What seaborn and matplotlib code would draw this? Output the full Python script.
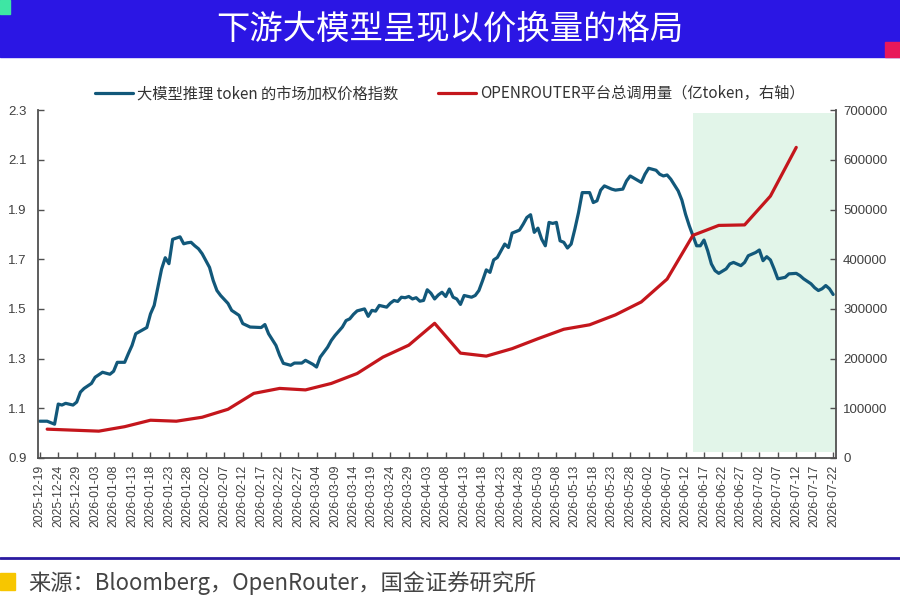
import numpy as np
import pandas as pd
import seaborn as sns
import matplotlib.pyplot as plt

# data
start = "2025-12-19"
price_day = [0, 2, 4, 5, 6, 7, 9, 10, 11, 12, 14, 15, 17, 19, 20, 21, 23, 24, 25, 26,
             28, 29, 30, 31, 32, 33, 34, 35, 36, 38, 39, 40, 41, 42, 43, 44, 46, 47, 48, 49,
             51, 52, 54, 55, 57, 60, 61, 62, 64, 65, 66, 68, 69, 71, 72, 74, 75, 76, 78, 79,
             80, 82, 83, 84, 85, 86, 88, 89, 90, 91, 92, 94, 95, 96, 97, 98, 99, 100, 101, 102,
             103, 104, 105, 106, 107, 108, 109, 110, 111, 112, 113, 114, 115, 117, 118, 119, 120, 121, 122, 123,
             124, 125, 126, 127, 128, 130, 131, 132, 133, 134, 135, 136, 137, 138, 139, 140, 141, 142, 143, 144,
             145, 146, 147, 149, 150, 151, 152, 153, 155, 156, 158, 159, 160, 162, 163, 164, 165, 167, 168, 169,
             170, 171, 173, 174, 175, 176, 177, 178, 179, 180, 181, 182, 183, 184, 186, 187, 188, 190, 191, 192,
             194, 195, 196, 197, 198, 199, 200, 202, 203, 205, 206, 207, 209, 210, 211, 212, 213, 214, 215]
price_index = [1.048, 1.048, 1.036, 1.117, 1.113, 1.120, 1.113, 1.125, 1.165, 1.180, 1.200, 1.225, 1.245, 1.237, 1.249, 1.285, 1.285, 1.320, 1.353, 1.400,
               1.417, 1.425, 1.480, 1.514, 1.586, 1.660, 1.706, 1.682, 1.780, 1.790, 1.762, 1.766, 1.768, 1.754, 1.742, 1.722, 1.667, 1.614, 1.574, 1.554,
               1.522, 1.494, 1.474, 1.441, 1.427, 1.425, 1.437, 1.400, 1.353, 1.313, 1.281, 1.273, 1.282, 1.282, 1.293, 1.277, 1.266, 1.306, 1.346, 1.373,
               1.393, 1.427, 1.453, 1.460, 1.478, 1.492, 1.500, 1.470, 1.494, 1.491, 1.514, 1.507, 1.523, 1.534, 1.530, 1.547, 1.545, 1.550, 1.540, 1.545,
               1.531, 1.534, 1.577, 1.563, 1.540, 1.556, 1.567, 1.550, 1.580, 1.547, 1.540, 1.518, 1.554, 1.547, 1.554, 1.574, 1.614, 1.657, 1.647, 1.697,
               1.707, 1.734, 1.761, 1.747, 1.805, 1.817, 1.841, 1.868, 1.879, 1.808, 1.825, 1.781, 1.754, 1.848, 1.844, 1.848, 1.774, 1.768, 1.745, 1.761,
               1.821, 1.888, 1.968, 1.968, 1.928, 1.935, 1.978, 1.995, 1.982, 1.978, 1.982, 2.015, 2.035, 2.018, 2.009, 2.042, 2.066, 2.058, 2.042, 2.035,
               2.039, 2.022, 1.975, 1.938, 1.881, 1.835, 1.795, 1.754, 1.754, 1.777, 1.734, 1.681, 1.654, 1.643, 1.661, 1.681, 1.687, 1.674, 1.687, 1.714,
               1.727, 1.737, 1.694, 1.710, 1.697, 1.661, 1.621, 1.627, 1.641, 1.643, 1.634, 1.621, 1.601, 1.585, 1.574, 1.581, 1.594, 1.581, 1.558]

usage_start = "2025-12-21"
usage = [58000, 56000, 54000, 63000, 76000, 74000, 82000, 98000, 130000, 140000,
         137000, 150000, 170000, 203000, 227000, 271000, 211000, 205000, 220000, 240000,
         259000, 268000, 288000, 314000, 360000, 448000, 468000, 469000, 527000, 625000]

shade_from = "2026-06-14"
end = "2026-07-22"

name_price = "大模型推理 token 的市场加权价格指数"
name_usage = "OPENROUTER平台总调用量（亿token，右轴）"
title = "下游大模型呈现以价换量的格局"
source = "来源：Bloomberg，OpenRouter，国金证券研究所"

price_df = pd.DataFrame({"date": pd.to_datetime(start) + pd.to_timedelta(price_day, unit="D"),
                         "value": price_index})
usage_df = pd.DataFrame({"date": pd.date_range(usage_start, periods=len(usage), freq="7D"),
                         "value": usage})

sns.set_style("ticks")
plt.rcParams['font.family'] = ['Noto Sans CJK SC', 'DejaVu Sans']

blue = "#12587a"
red = "#c4161c"
grey = "#404040"
tick_font = ['Liberation Sans', 'DejaVu Sans']

fig = plt.figure(figsize=(9, 6.05), dpi=100)
ax = fig.add_axes([0.042, 0.243, 0.887, 0.575])
ax2 = ax.twinx()

t0 = pd.to_datetime(start)
ax.axvspan(pd.to_datetime(shade_from), pd.to_datetime(end) + pd.Timedelta(days=0.8),
           ymin=0.017, ymax=0.991, color="#e2f5e9", lw=0, zorder=0)

sns.lineplot(data=price_df, x="date", y="value", ax=ax, color=blue, lw=2.3, label=name_price, legend=False)
sns.lineplot(data=usage_df, x="date", y="value", ax=ax2, color=red, lw=2.3, label=name_usage, legend=False)

ax.set_ylim(0.9, 2.3)
ax.set_yticks(np.arange(0.9, 2.31, 0.2))
ax.set_yticklabels([f"{v:.1f}" for v in np.arange(0.9, 2.31, 0.2)], family=tick_font)
ax2.set_ylim(0, 700000)
ax2.set_yticks(range(0, 700001, 100000))
ax2.set_yticklabels([str(v) for v in range(0, 700001, 100000)], family=tick_font)

ticks = pd.date_range(start, end, freq="5D")
ax.set_xticks(ticks)
ax.set_xticklabels([d.strftime("%Y-%m-%d") for d in ticks], rotation=90, family=tick_font)
ax.set_xlim(t0 - pd.Timedelta(days=0.54), pd.to_datetime(end) + pd.Timedelta(days=0.8))
ax.set_xlabel("")
ax.set_ylabel("")
ax2.set_ylabel("")

for a in (ax, ax2):
    a.spines["top"].set_visible(False)
    for s in ("left", "right", "bottom"):
        a.spines[s].set_color("#505050")
        a.spines[s].set_linewidth(1.3)
    a.tick_params(direction="in", length=4, width=1, color="#505050",
                  labelsize=9.5, labelcolor=grey, pad=5)
ax2.spines["left"].set_visible(False)
ax.spines["right"].set_visible(False)
ax2.spines["bottom"].set_visible(False)
ax.tick_params(axis="x", labelsize=8.8, pad=5)
ax.tick_params(axis="y", pad=8)

h1, l1 = ax.get_legend_handles_labels()
h2, l2 = ax2.get_legend_handles_labels()
fig.legend(h1 + h2, l1 + l2, loc="center", bbox_to_anchor=(0.5, 0.845), ncol=2,
           frameon=False, fontsize=11, handlelength=2.5, handletextpad=0.25,
           columnspacing=2.6, labelcolor="#333333")

# title band and decorations
fig.patches.append(plt.Rectangle((0, 1 - 57 / 605), 1, 57 / 605, transform=fig.transFigure,
                                 color="#2b16e4", zorder=0))
fig.patches.append(plt.Rectangle((0, 1 - 14 / 605), 10 / 900, 14 / 605, transform=fig.transFigure,
                                 color="#3ee6a4", zorder=1))
fig.patches.append(plt.Rectangle((885 / 900, 1 - 57 / 605), 15 / 900, 15 / 605, transform=fig.transFigure,
                                 color="#e8185a", zorder=1))
fig.text(0.5, 1 - 29 / 605, title, color="white", fontsize=24, ha="center", va="center")

fig.add_artist(plt.Line2D([0, 1], [1 - 558 / 605] * 2, transform=fig.transFigure,
                          color="#2a1aa0", lw=2))
fig.patches.append(plt.Rectangle((0, 1 - 590 / 605), 15 / 900, 17 / 605, transform=fig.transFigure,
                                 color="#f7c600", zorder=1))
fig.text(28 / 900, 1 - 583 / 605, source, color="#444444", fontsize=16, ha="left", va="center")

fig.savefig("out.png", dpi=100)
